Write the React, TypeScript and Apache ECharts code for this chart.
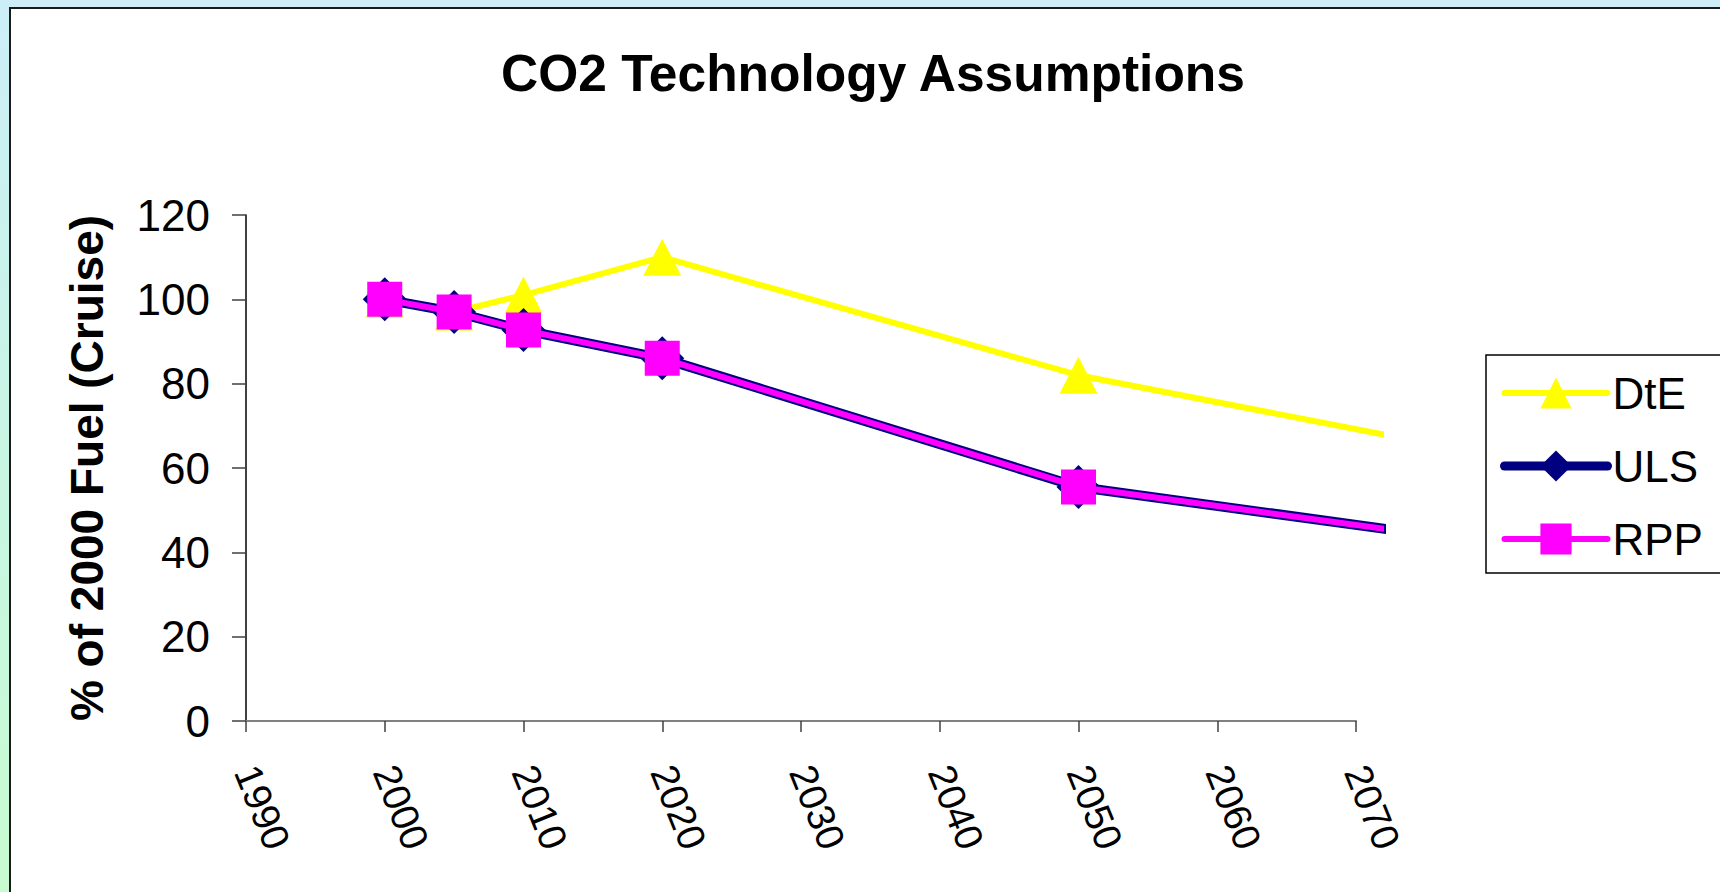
import React, { useEffect, useRef } from "react";
import * as echarts from "echarts";

const years = [2000, 2005, 2010, 2020, 2050, 2100];
const dteValues = [100, 97, 101, 110, 82, 50];
const ulsValues = [100, 97, 92.7, 86, 55.5, 33];
const rppValues = [100, 97, 92.7, 86, 55.5, 33];
const seriesNames = ["DtE", "ULS", "RPP"];
const titleText = "CO2 Technology Assumptions";
const yAxisTitle = "% of 2000 Fuel (Cruise)";

const FONT = "'Liberation Sans', Arial, sans-serif";

function pairs(xs: number[], ys: number[]) {
  return xs.map((x, i) => [x, ys[i]]);
}

export default function App() {
  const ref = useRef<HTMLDivElement>(null);

  useEffect(() => {
    document.body.style.margin = "0";
    if (!ref.current) return;
    const chart = echarts.init(ref.current, undefined, { renderer: "svg" });
    const gridLeft = 246;
    const gridTop = 215;
    const gridHeight = 506;
    const axisWidth = 1110;
    const seriesWidth = 1135;
    const xMin = 1990;
    const xMax = 2070;
    const seriesXMax = xMin + (seriesWidth / axisWidth) * (xMax - xMin);

    chart.setOption({
      animation: false,
      title: {
        text: titleText,
        left: 868,
        top: 42,
        textAlign: "center",
        textStyle: { fontFamily: FONT, fontSize: 51.5, fontWeight: "bold", color: "#000" },
      },
      legend: {
        orient: "vertical",
        left: 1486,
        top: 355,
        padding: [16, 60, 12, 14],
        borderColor: "#000",
        borderWidth: 1.5,
        backgroundColor: "#fff",
        itemWidth: 103,
        itemHeight: 39,
        itemGap: 29,
        textStyle: { fontFamily: FONT, fontSize: 44, color: "#000", lineHeight: 44, padding: [0, 0, 0, 0] },
        data: [
          { name: seriesNames[0], lineStyle: { width: 6, cap: "round" } },
          { name: seriesNames[1], lineStyle: { width: 9, cap: "round" } },
          { name: seriesNames[2], lineStyle: { width: 6, cap: "round" } },
        ],
      },
      grid: [
        { left: gridLeft, top: gridTop, width: axisWidth, height: gridHeight, containLabel: false },
        { left: gridLeft, top: gridTop, width: seriesWidth, height: gridHeight, containLabel: false },
      ],
      xAxis: [
        {
          type: "value",
          gridIndex: 0,
          min: xMin,
          max: xMax,
          interval: 10,
          splitLine: { show: false },
          axisLine: { show: true, onZero: false, lineStyle: { color: "#808080", width: 2 } },
          axisTick: { show: true, length: 11, lineStyle: { color: "#404040", width: 1.5 } },
          axisLabel: {
            rotate: -68,
            margin: 46,
            fontFamily: FONT,
            fontSize: 39,
            color: "#000",
            formatter: (v: number) => String(v),
          },
        },
        {
          type: "value",
          gridIndex: 1,
          min: xMin,
          max: seriesXMax,
          show: false,
        },
      ],
      yAxis: [
        {
          type: "value",
          gridIndex: 0,
          min: 0,
          max: 120,
          interval: 20,
          name: yAxisTitle,
          nameLocation: "middle",
          nameRotate: 90,
          nameGap: 136,
          nameTextStyle: { fontFamily: FONT, fontSize: 46, fontWeight: "bold", color: "#000" },
          splitLine: { show: false },
          axisLine: { show: true, lineStyle: { color: "#000", width: 1.5 } },
          axisTick: { show: true, length: 14, lineStyle: { color: "#404040", width: 1.5 } },
          axisLabel: { margin: 36, fontFamily: FONT, fontSize: 44, color: "#000" },
        },
        {
          type: "value",
          gridIndex: 1,
          min: 0,
          max: 120,
          show: false,
        },
      ],
      series: [
        {
          name: seriesNames[0],
          type: "line",
          xAxisIndex: 1,
          yAxisIndex: 1,
          data: pairs(years, dteValues),
          symbol: "triangle",
          symbolSize: [38, 37],
          lineStyle: { color: "#ffff00", width: 6 },
          itemStyle: { color: "#ffff00" },
          clip: true,
          z: 2,
        },
        {
          name: seriesNames[1],
          type: "line",
          xAxisIndex: 1,
          yAxisIndex: 1,
          data: pairs(years, ulsValues),
          symbol: "diamond",
          symbolSize: [44, 44],
          lineStyle: { color: "#000080", width: 10 },
          itemStyle: { color: "#000080" },
          clip: true,
          z: 3,
        },
        {
          name: seriesNames[2],
          type: "line",
          xAxisIndex: 1,
          yAxisIndex: 1,
          data: pairs(years, rppValues),
          symbol: "rect",
          symbolSize: [35, 35],
          lineStyle: { color: "#ff00ff", width: 6 },
          itemStyle: { color: "#ff00ff" },
          clip: true,
          z: 4,
        },
      ],
    });
    return () => chart.dispose();
  }, []);

  return (
    <div
      style={{
        position: "fixed",
        left: 0,
        top: 0,
        width: 1720,
        height: 892,
        overflow: "hidden",
        background: "linear-gradient(to bottom, #cdeef8 0%, #c9f5e4 50%, #c8fbd0 100%)",
      }}
    >
      <div
        style={{
          position: "absolute",
          left: 9,
          top: 7,
          width: 1740,
          height: 920,
          background: "#fff",
          border: "2px solid #1a1a1a",
        }}
      />
      <div ref={ref} style={{ position: "absolute", left: 0, top: 0, width: 1720, height: 892 }} />
    </div>
  );
}
